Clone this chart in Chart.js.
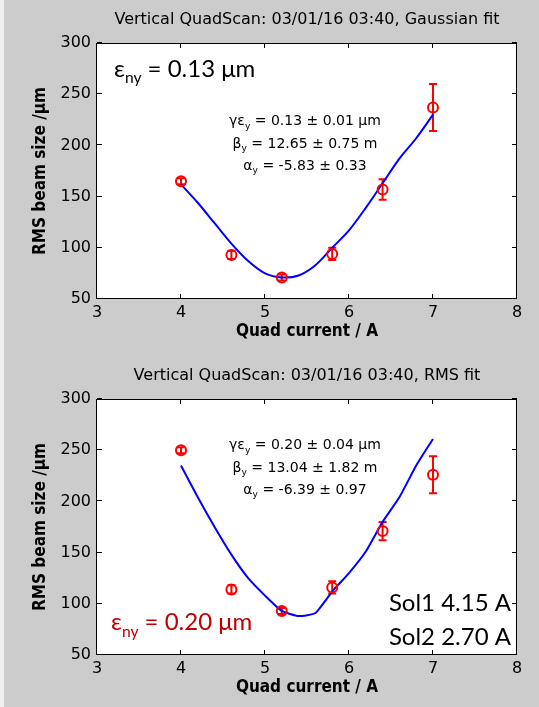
<!DOCTYPE html>
<html>
<head>
<meta charset="utf-8">
<script src="https://cdn.jsdelivr.net/npm/chart.js@4.4.1/dist/chart.umd.min.js"></script>
<style>
  html, body { margin: 0; padding: 0; background: #cccccc; }
  body { width: 539px; height: 707px; position: relative; overflow: hidden; }
  #edge { position: absolute; left: 0; top: 0; width: 4px; height: 707px; background: #efefef; }
  canvas { position: absolute; left: 0; }
  #scanGauss { top: 0; }
  #scanRms { top: 356px; }
</style>
</head>
<body>
<div id="edge"></div>
<canvas id="scanGauss" width="539" height="356"></canvas>
<canvas id="scanRms" width="539" height="356"></canvas>
<script>
// Axis ticks
const xTicks = [3, 4, 5, 6, 7, 8];
const yTicks = [50, 100, 150, 200, 250, 300];

// Measured quadrupole scan: current (A) vs RMS beam size (um)
const quadCurrent = [4.0, 4.6, 5.2, 5.8, 6.4, 7.0];
const gaussSize = [165, 93, 71, 94, 157, 237];
const gaussErr  = [3, 4, 3, 6, 10, 23];
const rmsSize   = [250, 114, 93, 116, 171, 226];
const rmsErr    = [3, 4, 3, 6, 9, 18];

// Fitted beam-size curves
const fitCurrent = [4.0, 4.2, 4.4, 4.6, 4.8, 5.0, 5.2, 5.4, 5.6, 5.8, 6.0, 6.2, 6.4, 6.6, 6.8, 7.0];
const gaussFit = [162, 144, 124, 104, 87, 75, 71, 73, 83, 100, 117, 139, 163, 187, 207, 230];
const rmsFit   = [235, 204, 175, 148, 125, 108, 93, 88, 91, 112, 130, 151, 180, 204, 235, 261];

// Text shown on the plots
const gaussTitle = 'Vertical QuadScan: 03/01/16 03:40, Gaussian fit';
const rmsTitle = 'Vertical QuadScan: 03/01/16 03:40, RMS fit';
const xLabel = 'Quad current / A';
const yLabel = 'RMS beam size /\u03BCm';
const gaussEmit = ['0.13'];
const rmsEmit = ['0.20'];
const gaussParams = ['0.13 \u00B1 0.01', '12.65 \u00B1 0.75', '-5.83 \u00B1 0.33'];
const rmsParams = ['0.20 \u00B1 0.04', '13.04 \u00B1 1.82', '-6.39 \u00B1 0.97'];
const solenoids = ['Sol1 4.15 A', 'Sol2 2.70 A'];

const SANS = "'DejaVu Sans', 'Liberation Sans', sans-serif";
const COND = "'DejaVu Sans Condensed', 'DejaVu Sans', sans-serif";
const CALIB = "Lato, 'Open Sans', sans-serif";

function drawRich(ctx, note, a) {
  const main = `${note.size}px ${note.family}`;
  const sub = `${note.size * 0.65}px ${note.family}`;
  let w = 0;
  note.parts.forEach(p => { ctx.font = p[1] ? sub : main; w += ctx.measureText(p[0]).width; });
  let x = a.left + note.x;
  if (note.align === 'center') x -= w / 2;
  else if (note.align === 'right') x -= w;
  const y = a.top + note.y;
  ctx.fillStyle = note.color;
  ctx.textAlign = 'left';
  ctx.textBaseline = 'alphabetic';
  note.parts.forEach(p => {
    ctx.font = p[1] ? sub : main;
    ctx.fillText(p[0], x, p[1] ? y + note.size * 0.28 : y);
    x += ctx.measureText(p[0]).width;
  });
}

// White axes box, inward tick marks, error bars and annotations
const framePlugin = {
  id: 'frame',
  beforeDraw(chart) {
    const { ctx, chartArea: a } = chart;
    ctx.save();
    ctx.fillStyle = '#ffffff';
    ctx.fillRect(a.left, a.top, a.right - a.left, a.bottom - a.top);
    ctx.restore();
  },
  beforeDatasetsDraw(chart, args, opts) {
    const { ctx } = chart;
    const xs = chart.scales.x, ys = chart.scales.y;
    const pts = chart.data.datasets[0].data;
    ctx.save();
    ctx.strokeStyle = '#ff0000';
    ctx.lineWidth = 2;
    pts.forEach((p, i) => {
      const px = xs.getPixelForValue(p.x);
      const top = ys.getPixelForValue(p.y + opts.errors[i]);
      const bot = ys.getPixelForValue(p.y - opts.errors[i]);
      ctx.beginPath();
      ctx.moveTo(px, top); ctx.lineTo(px, bot);
      ctx.moveTo(px - 4, top); ctx.lineTo(px + 4, top);
      ctx.moveTo(px - 4, bot); ctx.lineTo(px + 4, bot);
      ctx.stroke();
    });
    ctx.restore();
  },
  afterDraw(chart, args, opts) {
    const { ctx, chartArea: a } = chart;
    const xs = chart.scales.x, ys = chart.scales.y;
    ctx.save();
    ctx.strokeStyle = '#000000';
    ctx.lineWidth = 1;
    ctx.beginPath();
    ctx.rect(Math.round(a.left) - 0.5, Math.round(a.top) + 0.5,
             Math.round(a.right - a.left), Math.round(a.bottom - a.top) - 1);
    xTicks.forEach(v => {
      const px = Math.round(xs.getPixelForValue(v)) - 0.5;
      ctx.moveTo(px, a.bottom); ctx.lineTo(px, a.bottom - 5);
      ctx.moveTo(px, a.top); ctx.lineTo(px, a.top + 5);
    });
    yTicks.forEach(v => {
      const py = Math.round(ys.getPixelForValue(v)) - 0.5;
      ctx.moveTo(a.left, py); ctx.lineTo(a.left + 5, py);
      ctx.moveTo(a.right, py); ctx.lineTo(a.right - 5, py);
    });
    ctx.stroke();
    opts.notes.forEach(n => drawRich(ctx, n, a));
    ctx.restore();
  }
};

function fitNotes(vals, dy) {
  const base = { x: 208, align: 'center', color: '#000000', size: 14, family: SANS };
  return [
    Object.assign({}, base, { y: dy, parts: [['\u03B3\u03B5'], ['y', 1], [' = ' + vals[0] + ' \u03BCm']] }),
    Object.assign({}, base, { y: dy + 22.5, parts: [['\u03B2'], ['y', 1], [' = ' + vals[1] + ' m']] }),
    Object.assign({}, base, { y: dy + 44.5, parts: [['\u03B1'], ['y', 1], [' = ' + vals[2]]] })
  ];
}

function emitNote(val, x, y, color) {
  return { x: x, y: y, align: 'left', color: color, size: 24, family: CALIB,
           parts: [['\u03B5'], ['ny', 1], [' = ' + val + ' \u03BCm']] };
}

function makeScan(id, title, sizes, errs, fit, smooth, notes) {
  const tickFont = { family: SANS, size: 16 };
  const titleFont = { family: COND, size: 17, weight: 'bold' };
  return new Chart(document.getElementById(id), {
    type: 'scatter',
    data: {
      datasets: [
        {
          label: 'measured',
          data: quadCurrent.map((c, i) => ({ x: c, y: sizes[i] })),
          showLine: false,
          pointStyle: 'circle',
          pointRadius: 5,
          pointHoverRadius: 5,
          pointBorderWidth: 2,
          borderColor: '#ff0000',
          backgroundColor: 'rgba(0,0,0,0)'
        },
        {
          label: 'fit',
          data: fitCurrent.map((c, i) => ({ x: c, y: fit[i] })),
          showLine: true,
          borderColor: '#0000ff',
          borderWidth: 2,
          pointRadius: 0,
          tension: smooth,
          fill: false
        }
      ]
    },
    options: {
      responsive: false,
      animation: false,
      devicePixelRatio: 1,
      events: [],
      layout: { padding: { left: 0, right: 22, top: 0, bottom: 0 } },
      plugins: {
        legend: { display: false },
        tooltip: { enabled: false },
        title: {
          display: true,
          text: title,
          fullSize: false,
          color: '#000000',
          font: { family: SANS, size: 16, weight: 'normal', lineHeight: 1.2 },
          padding: { top: 10.4, bottom: 13.4 }
        },
        frame: { errors: errs, notes: notes }
      },
      scales: {
        x: {
          type: 'linear',
          min: 3, max: 8,
          afterBuildTicks: s => { s.ticks = xTicks.map(v => ({ value: v })); },
          afterFit: s => { s.height = 57; },
          ticks: { color: '#000000', font: tickFont, padding: 4 },
          grid: { display: false, drawTicks: false },
          border: { display: false },
          title: { display: true, text: xLabel, color: '#000000', font: titleFont, padding: { top: 0, bottom: 14 } }
        },
        y: {
          type: 'linear',
          min: 50, max: 300,
          afterBuildTicks: s => { s.ticks = yTicks.map(v => ({ value: v })); },
          afterFit: s => { s.width = 97; },
          ticks: { color: '#000000', font: tickFont, padding: 6 },
          grid: { display: false, drawTicks: false },
          border: { display: false },
          title: { display: true, text: yLabel, color: '#000000', font: titleFont, padding: { top: 30, bottom: 0 } }
        }
      }
    },
    plugins: [framePlugin]
  });
}

makeScan('scanGauss', gaussTitle, gaussSize, gaussErr, gaussFit, 0.3,
  [emitNote(gaussEmit[0], 17, 33.5, '#000000')].concat(fitNotes(gaussParams, 82)));

makeScan('scanRms', rmsTitle, rmsSize, rmsErr, rmsFit, 0.15,
  [emitNote(rmsEmit[0], 14, 231, '#c00000')].concat(fitNotes(rmsParams, 50)).concat([
    { x: 414, y: 212, align: 'right', color: '#000000', size: 24, family: CALIB, parts: [[solenoids[0]]] },
    { x: 414, y: 246, align: 'right', color: '#000000', size: 24, family: CALIB, parts: [[solenoids[1]]] }
  ]));
</script>
</body>
</html>
